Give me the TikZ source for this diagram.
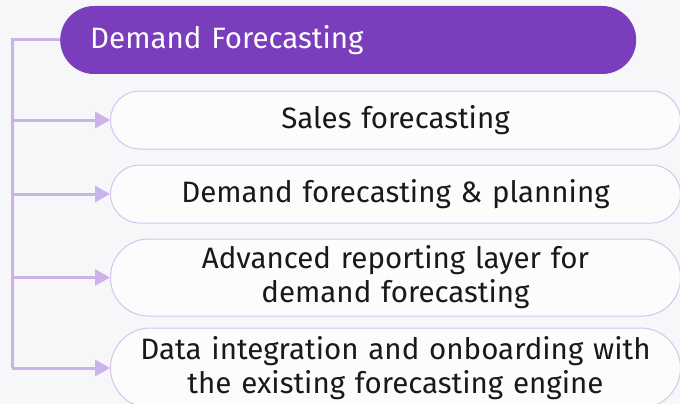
\documentclass[tikz,border=0pt]{standalone}
\usepackage{fontspec}
\setmainfont{Fira Sans}
\usetikzlibrary{arrows.meta,positioning}

\definecolor{pagebg}{HTML}{F7F7F9}
\definecolor{headpurple}{HTML}{7A3DBB}
\definecolor{linkpurple}{HTML}{C9B3E8}
\definecolor{edgepurple}{HTML}{D4C4EF}

\tikzset{
	header/.style={fill=headpurple, text=white,
		rounded corners=34pt, minimum height=68pt,
		text width=516pt, inner xsep=30pt, align=left,
		font=\fontsize{29.5}{34}\selectfont},
	task/.style={draw=edgepurple, line width=1pt, fill=pagebg!40!white,
		minimum width=570pt, text width=560pt, align=center,
		text=black!90, font=\fontsize{29.5}{34}\selectfont},
	link/.style={draw=linkpurple, line width=3pt},
	feed/.style={link, -{Triangle[length=15pt,width=16pt]}}
}

\begin{document}
\begin{tikzpicture}[x=1pt,y=-1pt]
	
	% page
	\fill[pagebg] (0,0) rectangle (680,404);
	\useasboundingbox (0,0) rectangle (680,404);
	
	% header pill
	\node [header, anchor=west] (head) at (60,40) {Demand Forecasting};
	
	% task pills
	\node [task, anchor=west, minimum height=58pt, rounded corners=29pt] (t1) at (110,120) {Sales forecasting};
	
	\node [task, anchor=west, minimum height=58pt, rounded corners=29pt] (t2) at (110,194) {Demand forecasting \& planning};
	
	\node [task, anchor=west, minimum height=77pt, rounded corners=38pt] (t3) at (110,277.5) {Advanced reporting layer for\\demand forecasting};
	
	\node [task, anchor=west, minimum height=80pt, rounded corners=40pt] (t4) at (110,368) {Data integration and onboarding with\\the existing forecasting engine};
	
	% spine and feeders
	\coordinate (spine) at (12,40);
	\draw [link] (head.west) -- (spine) -- (spine |- t4.west);
	
	\foreach \t in {t1,t2,t3,t4}
		\draw [feed] (spine |- \t.west) -- (\t.west);
	
\end{tikzpicture}
\end{document}
